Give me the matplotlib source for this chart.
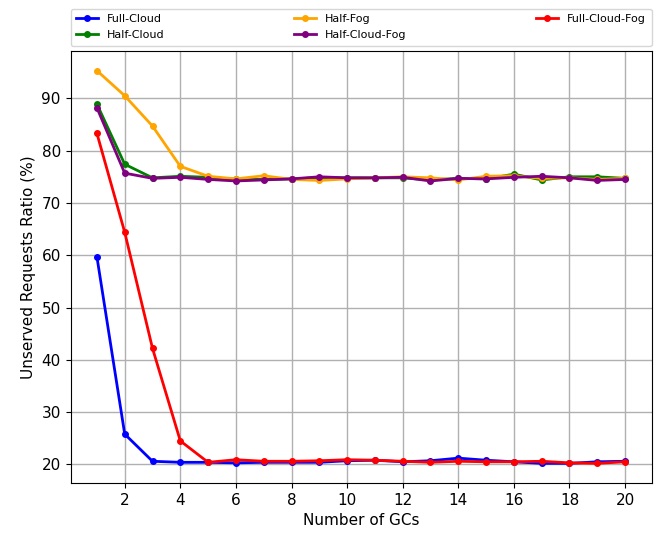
import matplotlib
matplotlib.use("Agg")
import matplotlib.pyplot as plt

gcs = list(range(1, 21))
full_cloud = [59.7, 25.8, 20.6, 20.4, 20.4, 20.3, 20.4, 20.4, 20.4, 20.7, 20.8, 20.5, 20.7, 21.2, 20.8, 20.5, 20.2, 20.2, 20.5, 20.6]
half_cloud = [88.9, 77.4, 74.8, 75.1, 74.9, 74.5, 74.5, 74.6, 74.8, 74.8, 74.8, 74.8, 74.4, 74.7, 74.6, 75.5, 74.4, 75.0, 75.0, 74.7]
half_fog = [95.3, 90.5, 84.7, 77.0, 75.1, 74.6, 75.2, 74.5, 74.3, 74.6, 74.8, 75.0, 74.8, 74.4, 75.1, 75.2, 74.7, 74.8, 74.5, 74.7]
half_cloud_fog = [88.2, 75.7, 74.7, 74.9, 74.5, 74.2, 74.4, 74.6, 75.0, 74.8, 74.8, 74.9, 74.2, 74.7, 74.6, 74.9, 75.1, 74.8, 74.3, 74.5]
full_cloud_fog = [83.3, 64.4, 42.2, 24.5, 20.4, 20.9, 20.6, 20.6, 20.7, 20.9, 20.8, 20.6, 20.4, 20.6, 20.5, 20.5, 20.6, 20.3, 20.2, 20.5]

series = [
    ("Full-Cloud", full_cloud, "blue"),
    ("Half-Cloud", half_cloud, "green"),
    ("Half-Fog", half_fog, "orange"),
    ("Half-Cloud-Fog", half_cloud_fog, "purple"),
    ("Full-Cloud-Fog", full_cloud_fog, "red"),
]

fig = plt.figure(figsize=(6.61, 5.34), dpi=100)
ax = fig.add_axes([70.5/661, 1-483/534, 581/661, 432/534])
for name, vals, col in series:
    ax.plot(gcs, vals, marker='o', markersize=4, linewidth=2, color=col, label=name)

ax.set_xticks(range(2, 21, 2))
ax.grid(True, color='#b0b0b0', linewidth=1)
ax.set_xlabel("Number of GCs", fontsize=11)
ax.set_ylabel("Unserved Requests Ratio (%)", fontsize=11)
ax.tick_params(labelsize=11)
ax.legend(bbox_to_anchor=(0, 1.012, 1, 0.1), loc='lower left', mode='expand',
          ncol=3, fontsize=8, borderaxespad=0, borderpad=0.5, labelspacing=0.55)
fig.savefig("out.png", dpi=100)
